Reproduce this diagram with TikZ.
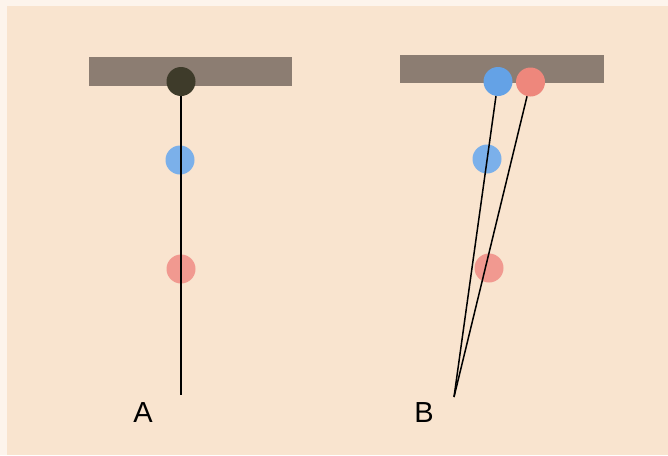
\documentclass[tikz,border=0pt]{standalone}
\usepackage{fontspec}
\setmainfont{Liberation Sans}
\usepackage{tikz}
\usetikzlibrary{calc}

\definecolor{peach}{HTML}{F9E4CF}
\definecolor{barbrown}{HTML}{8C7D72}
\definecolor{pivdark}{HTML}{3E3B2A}
\definecolor{ballblue}{HTML}{64A2E6}
\definecolor{ballred}{HTML}{EE877C}

\tikzset{
    ball/.style={circle, inner sep=0pt, minimum size=29pt},
    string/.style={black, line width=1.5pt},
    lbl/.style={font=\fontsize{29}{30}\selectfont}
}

\begin{document}
\begin{tikzpicture}[x=1pt,y=-1pt]

\useasboundingbox (0,0) rectangle (668,455);

% background
\fill[white!60!peach] (0,0) rectangle (668,455);
\fill[peach] (7,6) rectangle (668,455);

% Supporting bars
\fill[barbrown] (89,57) rectangle (292,86);
\fill[barbrown] (400,55) rectangle (604,83);

% Pendulum A
\node[ball, fill=ballblue!85!white] (blueA) at (180,160) {};
\node[ball, fill=ballred!85!white] (redA) at (181,269) {};
\node[ball, fill=pivdark] (pivA) at (181,81.5) {};
\coordinate (endA) at (181,395);
\draw[string] (pivA) -- (endA);

% Pendulum B
\node[ball, fill=ballblue!85!white] (blueB) at (487,159) {};
\node[ball, fill=ballred!85!white] (redB) at (489,268) {};
\node[ball, fill=ballblue] (pivBblue) at (498,81.5) {};
\node[ball, fill=ballred] (pivBred) at (530.5,82) {};
\coordinate (endB) at (454,397);
\draw[string] (pivBblue) -- (endB);
\draw[string] (pivBred) -- (endB);

% labels
\node[lbl] (labA) at (143,413) {A};
\node[lbl] (labB) at (424,413) {B};

\end{tikzpicture}
\end{document}
